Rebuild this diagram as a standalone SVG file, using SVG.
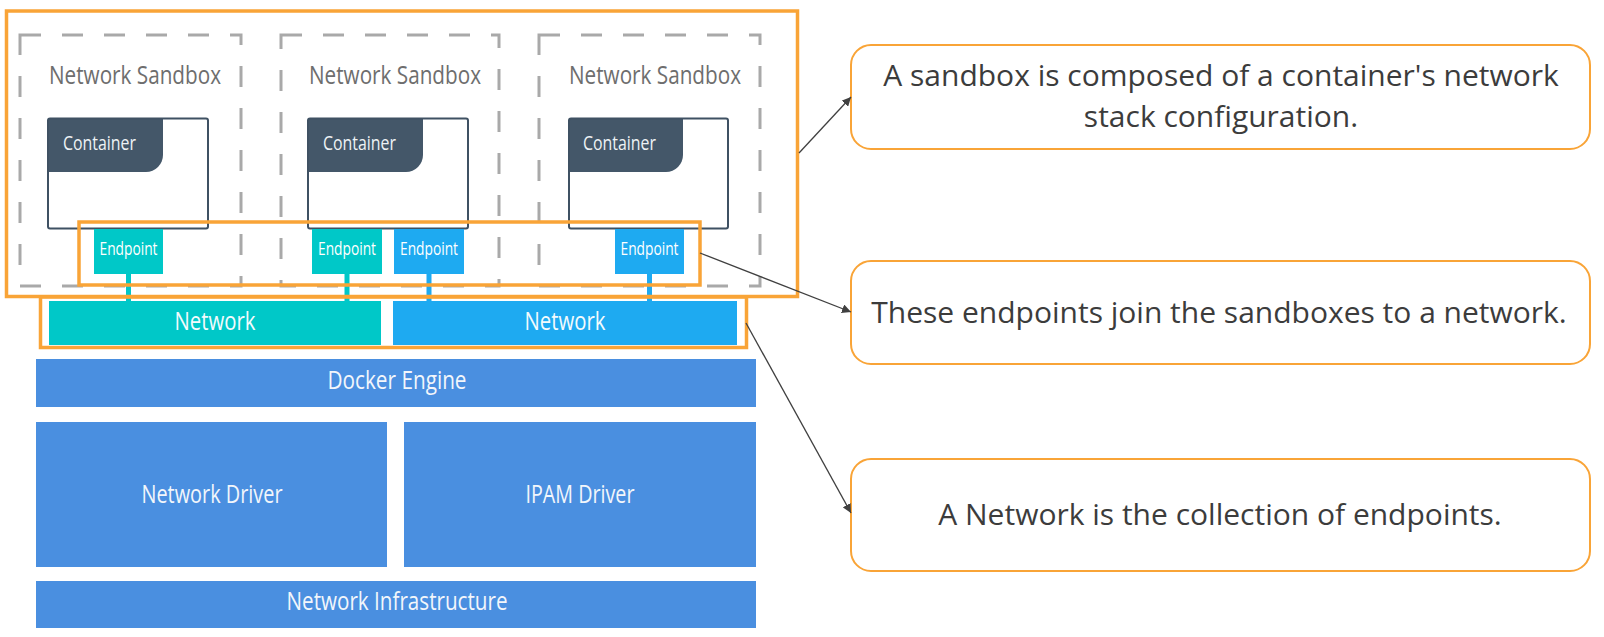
<svg xmlns="http://www.w3.org/2000/svg" width="1604" height="637" viewBox="0 0 1604 637">
<style>
.sandbox{fill:none;stroke:#a9a9a9;stroke-width:3;stroke-dasharray:21 21}
.sbt{font-family:"Open Sans","Noto Sans",sans-serif;font-size:25px;fill:#6e6e6e}
.cbox{fill:none;stroke:#3f5163;stroke-width:2}
.chead{fill:#445769}
.ct{font-family:"Open Sans","Noto Sans",sans-serif;font-size:20px;fill:#eef2f5}
.teal{fill:#00c8c8}
.blue{fill:#1eaaf1}
.ept{font-family:"Open Sans","Noto Sans",sans-serif;font-size:17.5px;fill:#ffffff;text-anchor:middle}
.layer{fill:#4a8fe0}
.lt{font-family:"Open Sans","Noto Sans",sans-serif;font-size:26px;fill:#f2f6fb;text-anchor:middle}
.nt{font-family:"Open Sans","Noto Sans",sans-serif;font-size:26px;fill:#f2fbfd;text-anchor:middle}
.hl{fill:none;stroke:#f9a437;stroke-width:3.5}
.callout{fill:#ffffff;stroke:#f9a437;stroke-width:2}
.cot{font-family:"Open Sans","Noto Sans",sans-serif;font-size:30px;fill:#3c3c3c;text-anchor:middle}
.conn{stroke:#404040;stroke-width:1.3;fill:none;marker-end:url(#arr)}
</style>
<defs>
<marker id="arr" viewBox="0 0 10 10" refX="10" refY="5" markerWidth="9" markerHeight="9" markerUnits="userSpaceOnUse" orient="auto">
<path d="M0,0 L10,5 L0,10 Z" fill="#404040"/>
</marker>
</defs>
<rect width="1604" height="637" fill="#ffffff"/>

<g id="sandbox1">
<rect class="sandbox" x="20" y="35" width="221" height="251"/>
<text class="sbt" x="49" y="84" textLength="172" lengthAdjust="spacingAndGlyphs">Network Sandbox</text>
</g>
<g id="sandbox2">
<rect class="sandbox" x="281" y="35" width="218" height="251"/>
<text class="sbt" x="309" y="84" textLength="172" lengthAdjust="spacingAndGlyphs">Network Sandbox</text>
</g>
<g id="sandbox3">
<rect class="sandbox" x="539" y="35" width="221" height="251"/>
<text class="sbt" x="569" y="84" textLength="172" lengthAdjust="spacingAndGlyphs">Network Sandbox</text>
</g>

<g id="container1">
<rect x="48" y="118.5" width="160" height="110" fill="#ffffff"/>
<path class="chead" d="M48,118.5 H163 V155 A17,17 0 0 1 146,172 H48 Z"/>
<rect class="cbox" x="48" y="118.5" width="160" height="110" rx="2"/>
<text class="ct" x="63" y="150" textLength="73" lengthAdjust="spacingAndGlyphs">Container</text>
</g>
<g id="container2">
<rect x="308" y="118.5" width="160" height="110" fill="#ffffff"/>
<path class="chead" d="M308,118.5 H423 V155 A17,17 0 0 1 406,172 H308 Z"/>
<rect class="cbox" x="308" y="118.5" width="160" height="110" rx="2"/>
<text class="ct" x="323" y="150" textLength="73" lengthAdjust="spacingAndGlyphs">Container</text>
</g>
<g id="container3">
<rect x="569" y="118.5" width="159" height="110" fill="#ffffff"/>
<path class="chead" d="M569,118.5 H683 V155 A17,17 0 0 1 666,172 H569 Z"/>
<rect class="cbox" x="569" y="118.5" width="159" height="110" rx="2"/>
<text class="ct" x="583" y="150" textLength="73" lengthAdjust="spacingAndGlyphs">Container</text>
</g>

<g id="connectors-endpoint">
<rect class="teal" x="126" y="272" width="5" height="30"/>
<rect class="teal" x="344.5" y="272" width="5" height="30"/>
<rect class="blue" x="426.5" y="272" width="5" height="30"/>
<rect class="blue" x="647" y="272" width="5" height="30"/>
</g>

<g id="endpoint1">
<rect class="teal" x="94" y="229" width="69" height="45"/>
<text class="ept" x="128.5" y="255" textLength="58" lengthAdjust="spacingAndGlyphs">Endpoint</text>
</g>
<g id="endpoint2">
<rect class="teal" x="312" y="229" width="70" height="45"/>
<text class="ept" x="347" y="255" textLength="58" lengthAdjust="spacingAndGlyphs">Endpoint</text>
</g>
<g id="endpoint3">
<rect class="blue" x="394" y="229" width="70" height="45"/>
<text class="ept" x="429" y="255" textLength="58" lengthAdjust="spacingAndGlyphs">Endpoint</text>
</g>
<g id="endpoint4">
<rect class="blue" x="615" y="229" width="69" height="45"/>
<text class="ept" x="649.5" y="255" textLength="58" lengthAdjust="spacingAndGlyphs">Endpoint</text>
</g>

<g id="network1">
<rect class="teal" x="49" y="301" width="332" height="44"/>
<text class="nt" x="215" y="330" textLength="81" lengthAdjust="spacingAndGlyphs">Network</text>
</g>
<g id="network2">
<rect class="blue" x="393" y="301" width="344" height="44"/>
<text class="nt" x="565" y="330" textLength="81" lengthAdjust="spacingAndGlyphs">Network</text>
</g>

<g id="docker-engine">
<rect class="layer" x="36" y="359" width="720" height="48"/>
<text class="lt" x="397" y="389" textLength="139" lengthAdjust="spacingAndGlyphs">Docker Engine</text>
</g>
<g id="network-driver">
<rect class="layer" x="36" y="422" width="351" height="145"/>
<text class="lt" x="212" y="503" textLength="141" lengthAdjust="spacingAndGlyphs">Network Driver</text>
</g>
<g id="ipam-driver">
<rect class="layer" x="404" y="422" width="352" height="145"/>
<text class="lt" x="580" y="503" textLength="109" lengthAdjust="spacingAndGlyphs">IPAM Driver</text>
</g>
<g id="network-infrastructure">
<rect class="layer" x="36" y="581" width="720" height="47"/>
<text class="lt" x="397" y="610" textLength="221" lengthAdjust="spacingAndGlyphs">Network Infrastructure</text>
</g>

<g id="highlight-sandboxes"><rect class="hl" x="6.5" y="11" width="791" height="285.5"/></g>
<g id="highlight-endpoints"><rect class="hl" x="79" y="222" width="621" height="63"/></g>
<g id="highlight-networks"><rect class="hl" x="40.5" y="297" width="706" height="50.5"/></g>

<g id="callout1">
<rect class="callout" x="851" y="45" width="739" height="104" rx="20"/>
<text class="cot" x="1221" y="86">A sandbox is composed of a container's network</text>
<text class="cot" x="1221" y="127">stack configuration.</text>
</g>
<g id="callout2">
<rect class="callout" x="851" y="261" width="739" height="103" rx="20"/>
<text class="cot" x="1219" y="323">These endpoints join the sandboxes to a network.</text>
</g>
<g id="callout3">
<rect class="callout" x="851" y="459" width="739" height="112" rx="20"/>
<text class="cot" x="1220" y="525">A Network is the collection of endpoints.</text>
</g>

<g id="connectors">
<line class="conn" x1="799" y1="153" x2="851" y2="97"/>
<line class="conn" x1="700" y1="253" x2="851" y2="312"/>
<line class="conn" x1="746" y1="323" x2="851" y2="513"/>
</g>
</svg>
